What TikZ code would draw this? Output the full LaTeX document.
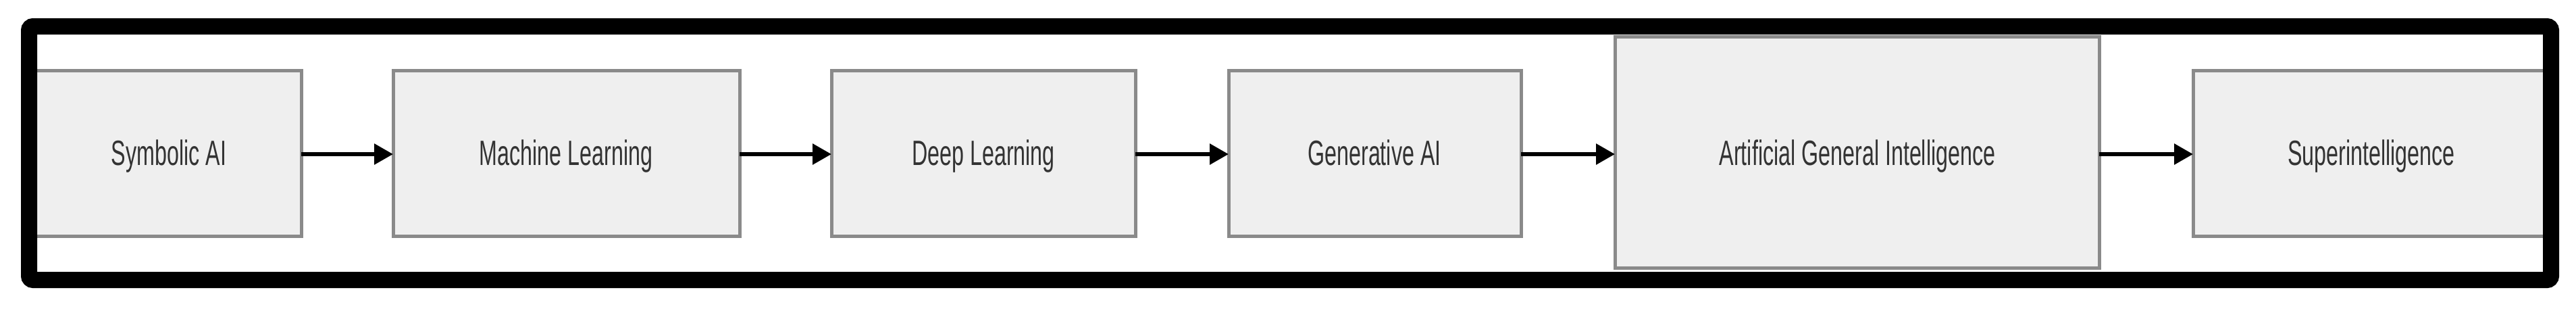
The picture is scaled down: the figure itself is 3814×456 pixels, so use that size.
\documentclass[tikz,border=0pt]{standalone}
\usepackage{fontspec}
\setmainfont{Liberation Sans}
\usetikzlibrary{arrows.meta}
\definecolor{boxfill}{HTML}{EFEFEF}
\definecolor{boxline}{HTML}{8A8A8A}
\definecolor{txt}{HTML}{333333}
\newcommand{\lbl}[1]{\scalebox{0.62}[1]{#1}}
\begin{document}
\begin{tikzpicture}[x=1pt,y=-1pt,
  box/.style={draw=boxline,line width=5pt,fill=boxfill},
  lab/.style={text=txt,font=\fontsize{52}{60}\selectfont,text height=38pt,text depth=10pt,inner sep=0pt},
  arr/.style={line width=6pt,-{Triangle[length=28pt,width=30pt]}}]
\useasboundingbox (0,0) rectangle (3814,456);
\draw[box] (40,104) rectangle (446,349);
\node[lab] (s) at (250,230) {\lbl{Symbolic AI}};
\draw[box] (582,104) rectangle (1095,349);
\node[lab] (m) at (838,230) {\lbl{Machine Learning}};
\draw[box] (1231,104) rectangle (1681,349);
\node[lab] (d) at (1456,230) {\lbl{Deep Learning}};
\draw[box] (1819,104) rectangle (2252,349);
\node[lab] (g) at (2035,230) {\lbl{Generative AI}};
\draw[box] (2391,54) rectangle (3108,396);
\node[lab] (a) at (2750,230) {\lbl{Artificial General Intelligence}};
\draw[box] (3247,104) rectangle (3775,349);
\node[lab] (u) at (3511,230) {\lbl{Superintelligence}};
\coordinate (s1) at (446,228); \coordinate (m0) at (582,228);
\coordinate (m1) at (1095,228); \coordinate (d0) at (1231,228);
\coordinate (d1) at (1681,228); \coordinate (g0) at (1819,228);
\coordinate (g1) at (2252,228); \coordinate (a0) at (2391,228);
\coordinate (a1) at (3108,228); \coordinate (u0) at (3247,228);
\draw[arr] (s1) -- (m0);
\draw[arr] (m1) -- (d0);
\draw[arr] (d1) -- (g0);
\draw[arr] (g1) -- (a0);
\draw[arr] (a1) -- (u0);
\fill[white] (0,0) rectangle (43,456);
\fill[white] (3777,0) rectangle (3814,456);
\draw[line width=24pt,rounded corners=6pt] (43,39) rectangle (3777,414);
\end{tikzpicture}
\end{document}
